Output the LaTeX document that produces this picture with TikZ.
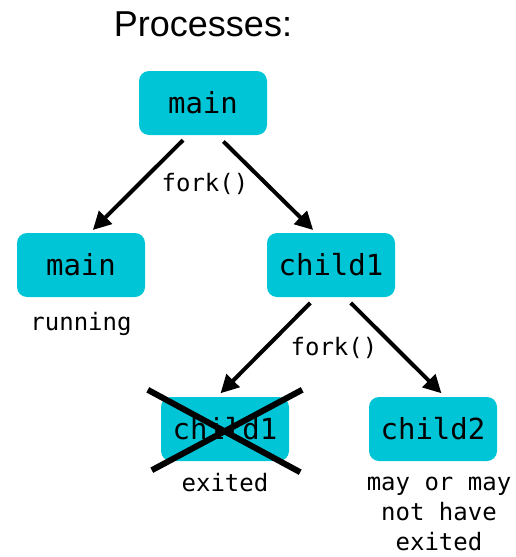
\documentclass[tikz,border=0pt]{standalone}
\usepackage{fontspec}
\setmainfont{Liberation Sans}
\newfontfamily\codefont{DejaVu Sans Mono}
\usetikzlibrary{arrows.meta}
\definecolor{procfill}{HTML}{00C5D6}
\tikzset{
  proc/.style={fill=procfill, rounded corners=10pt, minimum width=128pt,
    minimum height=64pt, inner sep=0pt, font=\codefont\fontsize{29}{34}\selectfont},
  note/.style={inner sep=0pt, align=center, font=\codefont\fontsize{24}{30}\selectfont},
  forkarrow/.style={line width=4pt, -{Triangle[length=18pt,width=18pt]}},
  crossline/.style={line width=6pt},
}
\begin{document}
\begin{tikzpicture}[x=1pt,y=-1pt]
\useasboundingbox (0,0) rectangle (516,557);

\node[inner sep=0pt, font=\fontsize{36}{40}\selectfont] (title) at (203,24) {Processes:};

\node[proc] (top) at (203,103) {main};
\node[proc] (parent) at (81,265) {main};
\node[proc] (childA) at (331,265) {child1};
\node[proc] (done) at (225,429) {child1};
\node[proc] (childB) at (433,429) {child2};

\node[note] (fork1) at (205,184) {fork()};
\node[note] (fork2) at (334,348) {fork()};
\node[note] (run) at (81,324) {running};
\node[note] (ex) at (225,483) {exited};
\node[note] (maybe) at (439,514) {may or may\\not have\\exited};

% first fork
\draw[forkarrow, shorten <=7pt, shorten >=4pt] ([xshift=-15pt]top.south) -- ([xshift=9pt]parent.north);
\draw[forkarrow, shorten <=9pt, shorten >=4pt] ([xshift=14pt]top.south) -- ([xshift=-15pt]childA.north);

% second fork
\draw[forkarrow, shorten <=8pt, shorten >=5pt] ([xshift=-15pt]childA.south) -- ([xshift=-8pt]done.north);
\draw[forkarrow, shorten <=8pt, shorten >=5pt] ([xshift=14pt]childA.south) -- ([xshift=12pt]childB.north);

% the exited child is struck out
\coordinate (xa) at ([shift={(-13pt,7pt)}]done.north west);
\coordinate (xb) at ([shift={(11pt,-11pt)}]done.south east);
\coordinate (xc) at ([shift={(13pt,7pt)}]done.north east);
\coordinate (xd) at ([shift={(-9pt,-9pt)}]done.south west);
\draw[crossline] (xa) -- (xb);
\draw[crossline] (xc) -- (xd);
\end{tikzpicture}
\end{document}
